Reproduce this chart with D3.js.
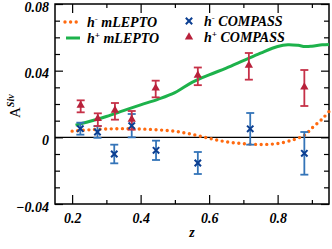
<!DOCTYPE html>
<html>
<head>
<meta charset="utf-8">
<script src="https://cdn.jsdelivr.net/npm/d3@7"></script>
<style>
body { margin: 0; background: #fff; }
text { font-family: "Liberation Serif", serif; font-weight: bold; font-style: italic; }
</style>
</head>
<body>
<div id="graphDiv"></div>
<script>
// COMPASS bins
var zPlus = [0.225, 0.275, 0.325, 0.374, 0.444, 0.567, 0.716, 0.878];
var aPlus = [0.0186, 0.0106, 0.0156, 0.0102, 0.029, 0.0366, 0.0426, 0.0296];
var ePlus = [0.0036, 0.0038, 0.005, 0.0056, 0.005, 0.0053, 0.008, 0.0108];

var zMinus = [0.224, 0.274, 0.323, 0.374, 0.445, 0.567, 0.72, 0.878];
var aMinus = [0.0052, 0.0032, -0.01, 0.007, -0.0078, -0.0154, 0.0051, -0.0096];
var eMinus = [0.0036, 0.0035, 0.0056, 0.007, 0.0058, 0.0066, 0.0095, 0.0128];

// mLEPTO curves
var zGreen = [0.21, 0.25, 0.3, 0.35, 0.4, 0.45, 0.5, 0.55, 0.6, 0.65, 0.7, 0.75, 0.8, 0.83, 0.86, 0.88, 0.9, 0.93, 0.95];
var aGreen = [0.0073, 0.0095, 0.0125, 0.016, 0.0195, 0.0228, 0.0268, 0.033, 0.0375, 0.0415, 0.046, 0.0505, 0.0545, 0.0556, 0.0552, 0.0545, 0.0547, 0.0555, 0.0557];
var zOrange = [0.2, 0.25, 0.3, 0.35, 0.4, 0.45, 0.5, 0.55, 0.6, 0.65, 0.7, 0.75, 0.8, 0.85, 0.88, 0.9, 0.93, 0.95];
var aOrange = [0.0037, 0.0045, 0.005, 0.0052, 0.005, 0.0045, 0.0036, 0.0018, -0.0006, -0.0027, -0.0038, -0.0043, -0.0037, -0.0012, 0.0015, 0.0055, 0.011, 0.0155];

var xTicks = [0.2, 0.4, 0.6, 0.8];
var xMinor = [0.3, 0.5, 0.7, 0.9];
var yTicks = [-0.04, 0, 0.04, 0.08];
var yTickLabels = ["\u22120.04", "0", "0.04", "0.08"];
var yMinor = [-0.03, -0.02, -0.01, 0.01, 0.02, 0.03, 0.05, 0.06, 0.07];

var margin = {top: 4, right: 3, bottom: 45, left: 55},
width = 332 - margin.left - margin.right,
height = 249 - margin.top - margin.bottom;

var svg = d3.select("#graphDiv")
.append("svg")
.attr("width", 332)
.attr("height", 249)
.append("g")
.attr("transform", "translate(" + margin.left + "," + margin.top + ")");

var x = d3.scaleLinear().domain([0.15, 0.95]).range([0, width]);
var y = d3.scaleLinear().domain([-0.04, 0.08]).range([height, 0]);

// axes, ticks pointing inward
function styleAxis(g) {
  g.select(".domain").remove();
  g.selectAll("line").attr("stroke", "#000").attr("stroke-width", 1.2);
  g.selectAll("text").attr("fill", "#000").style("font-size", "14px");
}

svg.append("g")
.attr("transform", "translate(0," + height + ")")
.call(d3.axisBottom(x).tickValues(xTicks).tickSizeInner(-9).tickSizeOuter(0).tickPadding(9).tickFormat(d3.format(".1f")))
.call(styleAxis);
svg.append("g")
.attr("transform", "translate(0," + height + ")")
.call(d3.axisBottom(x).tickValues(xMinor).tickSize(-4).tickFormat(""))
.call(styleAxis);
svg.append("g")
.call(d3.axisTop(x).tickValues(xTicks).tickSize(-9).tickFormat(""))
.call(styleAxis);
svg.append("g")
.call(d3.axisTop(x).tickValues(xMinor).tickSize(-4).tickFormat(""))
.call(styleAxis);

svg.append("g")
.call(d3.axisLeft(y).tickValues(yTicks).tickSizeInner(-8).tickSizeOuter(0).tickPadding(6)
  .tickFormat(function(d, i) { return yTickLabels[i]; }))
.call(styleAxis)
.selectAll("text").attr("dy", "0.5em");
svg.append("g")
.call(d3.axisLeft(y).tickValues(yMinor).tickSize(-5).tickFormat(""))
.call(styleAxis);
svg.append("g")
.attr("transform", "translate(" + width + ",0)")
.call(d3.axisRight(y).tickValues(yTicks).tickSize(-8).tickFormat(""))
.call(styleAxis);
svg.append("g")
.attr("transform", "translate(" + width + ",0)")
.call(d3.axisRight(y).tickValues(yMinor).tickSize(-5).tickFormat(""))
.call(styleAxis);

// frame
svg.append("rect")
.attr("width", width).attr("height", height)
.attr("fill", "none").attr("stroke", "#000").attr("stroke-width", 1.5);

// zero line
svg.append("line")
.attr("x1", 0).attr("x2", width)
.attr("y1", y(0)).attr("y2", y(0))
.attr("stroke", "#000").attr("stroke-width", 1.2);

var line = d3.line()
.x(function(d) { return x(d[0]); })
.y(function(d) { return y(d[1]); })
.curve(d3.curveCatmullRom);

svg.append("path")
.datum(d3.zip(zGreen, aGreen))
.attr("d", line)
.attr("fill", "none").attr("stroke", "#1db24b").attr("stroke-width", 3);

svg.append("path")
.datum(d3.zip(zOrange, aOrange))
.attr("d", line)
.attr("fill", "none").attr("stroke", "#ff6a10").attr("stroke-width", 3.4)
.attr("stroke-linecap", "round").attr("stroke-dasharray", "0 5.6");

// error bars
function errorBars(zs, as, es, color) {
  var data = d3.zip(zs, as, es);
  var g = svg.append("g").attr("stroke", color).attr("stroke-width", 1.8).attr("fill", "none");
  g.selectAll(".v").data(data).enter().append("line")
  .attr("x1", function(d) { return x(d[0]); }).attr("x2", function(d) { return x(d[0]); })
  .attr("y1", function(d) { return y(d[1] + d[2]); }).attr("y2", function(d) { return y(d[1] - d[2]); });
  g.selectAll(".t").data(data).enter().append("line")
  .attr("x1", function(d) { return x(d[0]) - 4; }).attr("x2", function(d) { return x(d[0]) + 4; })
  .attr("y1", function(d) { return y(d[1] + d[2]); }).attr("y2", function(d) { return y(d[1] + d[2]); });
  g.selectAll(".b").data(data).enter().append("line")
  .attr("x1", function(d) { return x(d[0]) - 4; }).attr("x2", function(d) { return x(d[0]) + 4; })
  .attr("y1", function(d) { return y(d[1] - d[2]); }).attr("y2", function(d) { return y(d[1] - d[2]); });
}

errorBars(zMinus, aMinus, eMinus, "#3474b8");
errorBars(zPlus, aPlus, ePlus, "#c63148");

var cross = d3.symbol().type(d3.symbolX).size(28);
var tri = d3.symbol().type(d3.symbolTriangle).size(30);

svg.selectAll(".cross").data(d3.zip(zMinus, aMinus)).enter().append("path")
.attr("d", cross)
.attr("transform", function(d) { return "translate(" + x(d[0]) + "," + y(d[1]) + ")"; })
.attr("fill", "none").attr("stroke", "#0c3f92").attr("stroke-width", 2);

svg.selectAll(".tri").data(d3.zip(zPlus, aPlus)).enter().append("path")
.attr("d", tri)
.attr("transform", function(d) { return "translate(" + x(d[0]) + "," + (y(d[1]) - 1) + ")"; })
.attr("fill", "#b8213b");

// legend
var root = d3.select("svg");
function legendText(px, py, sign, label) {
  var t = root.append("text").attr("x", px).attr("y", py).style("font-size", "14px").attr("fill", "#000");
  t.append("tspan").text("h");
  t.append("tspan").attr("dy", -5).style("font-size", "9px").text(sign);
  t.append("tspan").attr("dy", 5).text(" " + label);
}
root.append("line").attr("x1", 65).attr("x2", 79).attr("y1", 22).attr("y2", 22)
.attr("stroke", "#ff6a10").attr("stroke-width", 3.4).attr("stroke-linecap", "round").attr("stroke-dasharray", "0 5.6");
legendText(87, 27, "-", "mLEPTO");
root.append("line").attr("x1", 66).attr("x2", 80).attr("y1", 38).attr("y2", 38)
.attr("stroke", "#1db24b").attr("stroke-width", 3);
legendText(87, 43, "+", "mLEPTO");
root.append("path").attr("d", cross).attr("transform", "translate(189,21)")
.attr("fill", "none").attr("stroke", "#0c3f92").attr("stroke-width", 2);
legendText(204, 26, "-", "COMPASS");
root.append("path").attr("d", tri).attr("transform", "translate(189,37)").attr("fill", "#b8213b");
legendText(204, 42, "+", "COMPASS");

// axis titles
root.append("text").attr("x", 192).attr("y", 237).attr("text-anchor", "middle")
.style("font-size", "14px").text("z");
var yl = root.append("text").attr("transform", "translate(20,118) rotate(-90)")
.style("font-size", "15px");
yl.append("tspan").style("font-weight", "normal").style("font-style", "normal").text("A");
yl.append("tspan").attr("dy", -6).style("font-size", "10px").text("Siv");
</script>
</body>
</html>
